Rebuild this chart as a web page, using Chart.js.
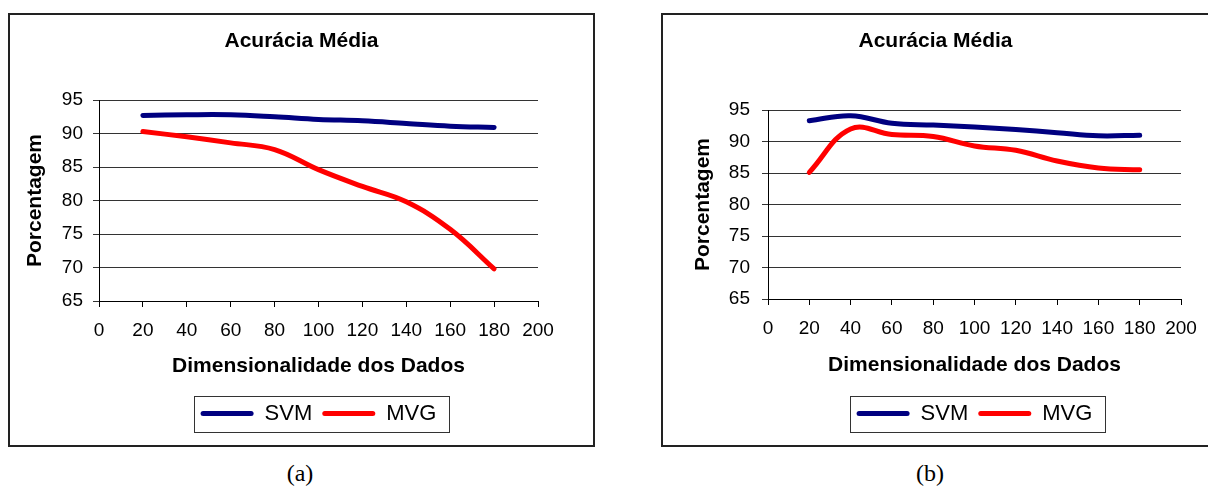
<!DOCTYPE html>
<html lang="pt-br">
<head>
<meta charset="UTF-8">
<title>Acurácia Média</title>
<script src="https://cdn.jsdelivr.net/npm/chart.js@4.4.1/dist/chart.umd.min.js"></script>
<style>
  html, body { margin: 0; padding: 0; background: #fff; overflow: hidden; }
  .quadro { position: absolute; top: 13px; height: 434px; border: 2px solid #222; box-sizing: border-box; background: #fff; }
  #quadroA { left: 8px; width: 587px; }
  #quadroB { left: 661px; width: 547px; border-right: none; }
  canvas { display: block; }
  .rotulo { position: absolute; top: 460px; font: 24px "Liberation Serif", "Times New Roman", serif; color: #000; transform: translateX(-50%); }
</style>
</head>
<body>
  <div class="quadro" id="quadroA"><canvas id="graficoA" width="583" height="430"></canvas></div>
  <div class="quadro" id="quadroB"><canvas id="graficoB" width="545" height="430"></canvas></div>
  <div class="rotulo" style="left:300px">(a)</div>
  <div class="rotulo" style="left:930px">(b)</div>

<script>
// dados
const dimensoes = [20, 40, 60, 80, 100, 120, 140, 160, 180];
const svmA = [92.7, 92.8, 92.8, 92.5, 92.1, 91.9, 91.5, 91.1, 90.9];
const mvgA = [90.3, 89.5, 88.6, 87.6, 84.6, 82.1, 79.8, 75.7, 69.8];
const svmB = [93.3, 94.1, 92.9, 92.6, 92.3, 91.9, 91.4, 90.9, 91.0];
const mvgB = [85.1, 92.0, 91.1, 90.8, 89.3, 88.6, 86.9, 85.8, 85.5];
const ticksX = [0, 20, 40, 60, 80, 100, 120, 140, 160, 180, 200];
const ticksY = [65, 70, 75, 80, 85, 90, 95];
const series = ['SVM', 'MVG'];
const cores = ['#000080', '#ff0000'];

const fonte = "'Liberation Sans', Arial, sans-serif";

// moldura em volta da legenda (estilo Excel)
const molduraLegenda = {
  id: 'molduraLegenda',
  afterDraw(chart) {
    const caixas = chart.legend.legendHitBoxes;
    if (!caixas || !caixas.length) return;
    const esq = Math.min(...caixas.map(c => c.left));
    const dir = Math.max(...caixas.map(c => c.left + c.width));
    const meio = caixas[0].top + caixas[0].height / 2;
    const ctx = chart.ctx;
    ctx.save();
    ctx.strokeStyle = '#333';
    ctx.lineWidth = 1;
    ctx.strokeRect(Math.round(esq - 7) + 0.5, Math.round(meio - 18) + 0.5, Math.round(dir - esq + 19), 36);
    ctx.restore();
  }
};

function grafico(id, svm, mvg, g) {
  return new Chart(document.getElementById(id), {
    type: 'line',
    data: {
      datasets: [svm, mvg].map((valores, i) => ({
        label: series[i],
        data: dimensoes.map((d, k) => ({ x: d, y: valores[k] })),
        borderColor: cores[i],
        backgroundColor: cores[i],
        borderWidth: 5,
        tension: 0.4,
        pointRadius: 0,
        borderCapStyle: 'round',
        borderJoinStyle: 'round',
        fill: false
      }))
    },
    options: {
      responsive: false,
      animation: false,
      layout: { padding: { left: 0, right: 0, top: 0, bottom: g.baixo } },
      plugins: {
        title: {
          display: true,
          text: 'Acurácia Média',
          color: '#000',
          font: { family: fonte, size: 21, weight: 'bold' },
          padding: { top: 14, bottom: g.titulo }
        },
        legend: {
          position: 'bottom',
          fullSize: false,
          labels: {
            color: '#000',
            font: { family: fonte, size: 22 },
            boxWidth: 53,
            boxHeight: 5,
            padding: 10,
            useBorderRadius: true,
            borderRadius: 2.5,
            generateLabels: chart => Chart.defaults.plugins.legend.labels.generateLabels(chart)
              .map(it => Object.assign(it, { fillStyle: it.strokeStyle, lineWidth: 0 }))
          }
        },
        tooltip: { enabled: false }
      },
      scales: {
        x: {
          type: 'linear',
          min: 0,
          max: 200,
          afterBuildTicks: s => { s.ticks = ticksX.map(v => ({ value: v })); },
          afterFit: s => { s.height = g.alturaX; s.paddingLeft = 0; s.paddingRight = 0; },
          ticks: { color: '#000', font: { family: fonte, size: 19 }, padding: g.padX, maxRotation: 0, autoSkip: false },
          grid: { drawOnChartArea: false, drawTicks: true, tickLength: 6, color: '#000' },
          border: { color: '#000', width: 1 },
          title: {
            display: true,
            text: 'Dimensionalidade dos Dados',
            color: '#000',
            font: { family: fonte, size: 21, weight: 'bold' },
            padding: { top: 0, bottom: g.tituloX }
          }
        },
        y: {
          type: 'linear',
          position: 'left',
          min: 65,
          max: 95,
          afterBuildTicks: s => { s.ticks = ticksY.map(v => ({ value: v })); },
          afterFit: s => { s.width = g.larguraY; s.paddingTop = 0; s.paddingBottom = 0; },
          ticks: { color: '#000', font: { family: fonte, size: 19 }, padding: g.padY },
          grid: { color: '#333', lineWidth: 1, drawTicks: true, tickLength: 6 },
          border: { color: '#000', width: 1 },
          title: {
            display: true,
            text: 'Porcentagem',
            color: '#000',
            font: { family: fonte, size: 21, weight: 'bold' },
            padding: { top: g.tituloY, bottom: 0 }
          }
        },
        folga: {
          type: 'linear',
          position: 'right',
          display: true,
          afterFit: s => { s.width = g.folga; },
          ticks: { display: false },
          grid: { display: false, drawTicks: false },
          border: { display: false }
        }
      }
    },
    plugins: [molduraLegenda]
  });
}

grafico('graficoA', svmA, mvgA, {
  baixo: 10.5, titulo: 45.8, alturaX: 91.5, larguraY: 89, folga: 55,
  padY: 10, tituloY: 12.4, padX: 12, tituloX: 13.9
});

grafico('graficoB', svmB, mvgB, {
  baixo: 10.5, titulo: 55.8, alturaX: 93.5, larguraY: 105, folga: 27,
  padY: 12, tituloY: 27.4, padX: 12, tituloX: 14.9
});
</script>
</body>
</html>
